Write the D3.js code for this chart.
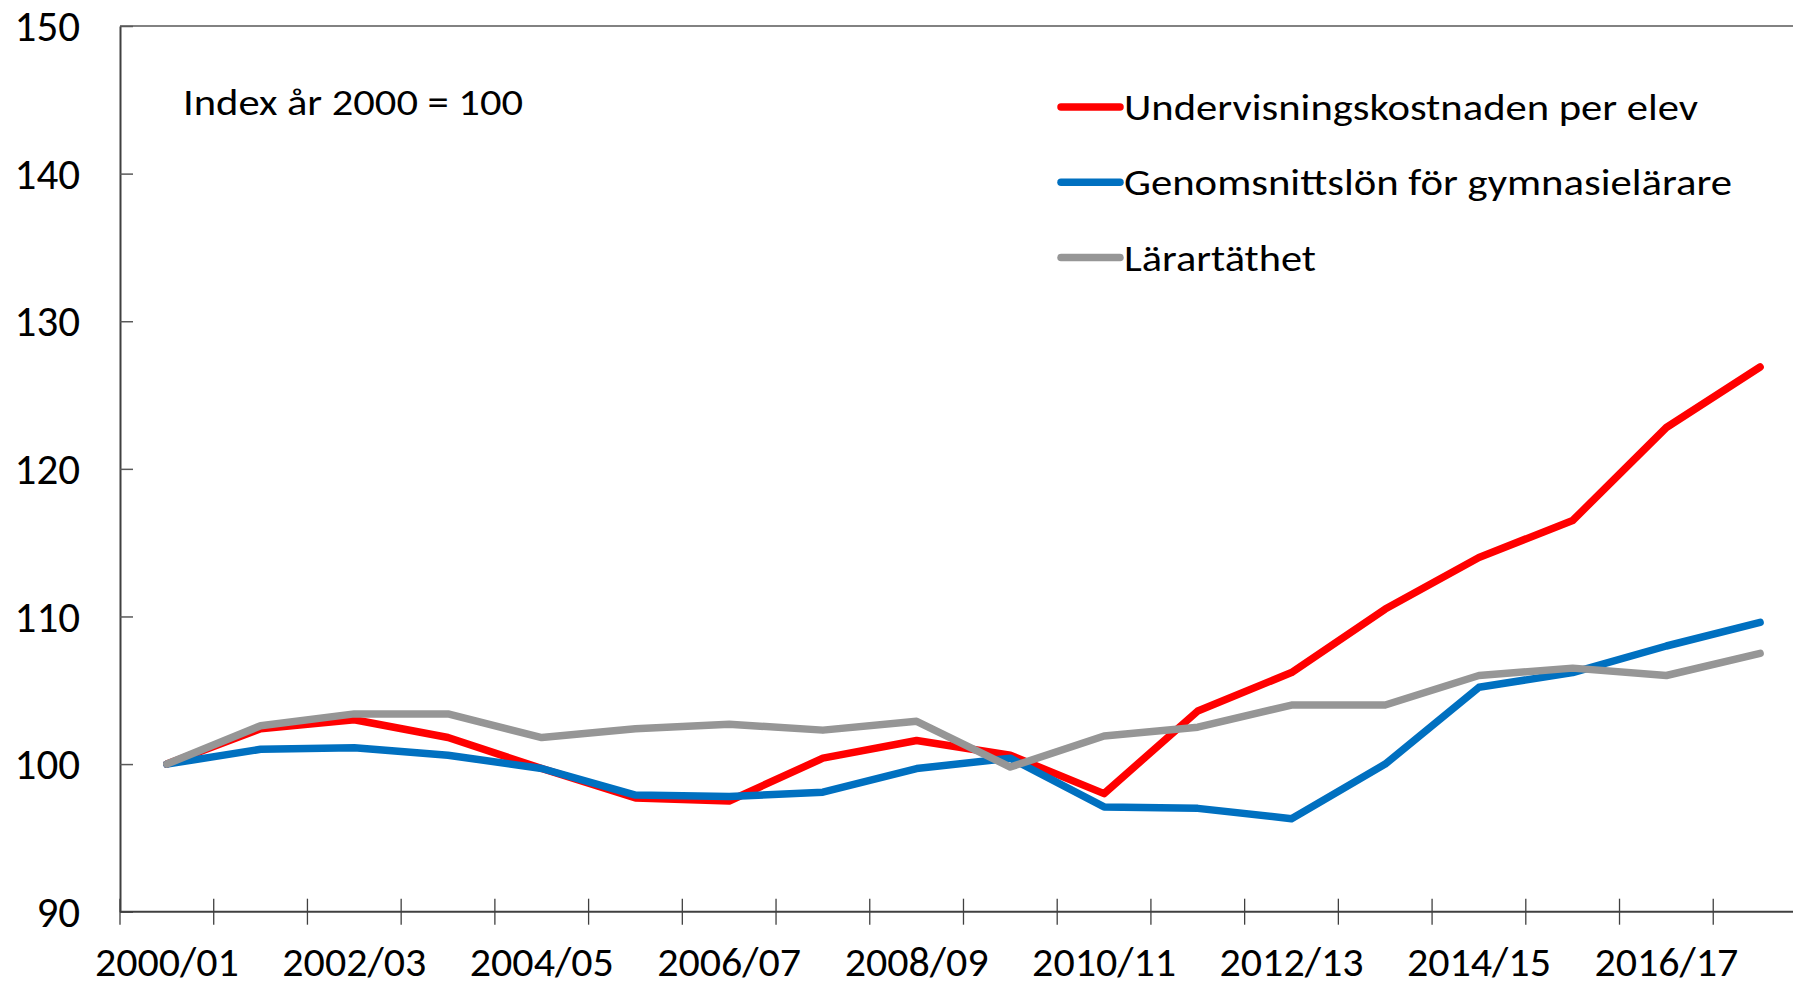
<!DOCTYPE html>
<html>
<head>
<meta charset="utf-8">
<script src="https://cdn.jsdelivr.net/npm/d3@7"></script>
<style>
    body { margin: 0; background: white; overflow: hidden; }
    text { font-family: Carlito, Calibri, "Open Sans", sans-serif; fill: black; }
</style>
</head>
<body>
<div id="chart"></div>
<script>
// läsåren på x-axeln
const categories = ["2000/01", "2001/02", "2002/03", "2003/04", "2004/05", "2005/06", "2006/07", "2007/08", "2008/09",
    "2009/10", "2010/11", "2011/12", "2012/13", "2013/14", "2014/15", "2015/16", "2016/17", "2017/18"]

// serier, index år 2000 = 100
const kostnad = [100, 102.4, 103.0, 101.8, 99.7, 97.7, 97.5, 100.4, 101.6, 100.6, 98.0, 103.6, 106.2, 110.5, 114.0, 116.5, 122.8, 126.9]
const lon = [100, 101.0, 101.1, 100.6, 99.7, 97.9, 97.8, 98.1, 99.7, 100.4, 97.1, 97.0, 96.3, 100.0, 105.2, 106.2, 108.0, 109.6]
const tathet = [100, 102.6, 103.4, 103.4, 101.8, 102.4, 102.7, 102.3, 102.9, 99.8, 101.9, 102.5, 104.0, 104.0, 106.0, 106.5, 106.0, 107.5]

const seriesNames = ["Undervisningskostnaden per elev", "Genomsnittslön för gymnasielärare", "Lärartäthet"]
const seriesColors = ["#ff0000", "#0070c0", "#969696"]
const yTicks = [90, 100, 110, 120, 130, 140, 150]
const xLabels = ["2000/01", "2002/03", "2004/05", "2006/07", "2008/09", "2010/11", "2012/13", "2014/15", "2016/17"]
const note = "Index år 2000 = 100"

//----------------------------------------------------------------------------
const width = 1793
const height = 990
const margin = { top: 26, left: 120, bottom: 76 }
const bandW = 93.72

const svg = d3.select("#chart")
    .append("svg")
    .attr("width", width)
    .attr("height", height)

//define scales
const x = d3.scaleBand()
    .domain(categories)
    .range([margin.left, margin.left + bandW * categories.length])
    .padding(0)

const y = d3.scaleLinear()
    .domain([90, 150])
    .range([height - margin.bottom - 2.3, margin.top])

//top border of the plot area
svg.append("line")
    .attr("x1", margin.left)
    .attr("x2", width)
    .attr("y1", y(150))
    .attr("y2", y(150))
    .attr("stroke", "#595959")
    .attr("stroke-width", 1.5)

//draw y axe
const yAxis = svg.append("g")
    .attr("transform", `translate(${margin.left},0)`)
    .call(d3.axisLeft(y).tickValues(yTicks).tickSizeInner(-13).tickSizeOuter(0).tickPadding(40))
yAxis.select(".domain").attr("stroke", "#404040").attr("stroke-width", 2)
yAxis.selectAll(".tick line").attr("stroke", "#595959").attr("stroke-width", 1.5)
yAxis.selectAll(".tick text")
    .style("font-size", "43px")
    .attr("dy", "0.34em")

//draw x axe, labels on every other year
const xAxis = svg.append("g")
    .attr("transform", `translate(0,${y(90)})`)
    .call(d3.axisBottom(x).tickValues(xLabels).tickSize(0).tickPadding(38))
xAxis.select(".domain").remove()
xAxis.selectAll(".tick text")
    .style("font-size", "42px")
    .attr("dy", "0.62em")

svg.append("line")
    .attr("x1", margin.left)
    .attr("x2", width)
    .attr("y1", y(90))
    .attr("y2", y(90))
    .attr("stroke", "#404040")
    .attr("stroke-width", 2)

//cross tick marks between the school years
const bounds = categories.map(c => x(c)).concat([x(categories[categories.length - 1]) + x.bandwidth()])
svg.append("g")
    .selectAll("line")
    .data(bounds)
    .join("line")
    .attr("x1", d => d)
    .attr("x2", d => d)
    .attr("y1", y(90) - 13)
    .attr("y2", y(90) + 13)
    .attr("stroke", "#404040")
    .attr("stroke-width", 1.3)

//----------------------------------------------------------------------------
//lines
const line = d3.line()
    .x((d, i) => x(categories[i]) + x.bandwidth() / 2)
    .y(d => y(d))

const allSeries = [kostnad, lon, tathet]
svg.append("g")
    .selectAll("path")
    .data(allSeries)
    .join("path")
    .attr("d", d => line(d))
    .attr("fill", "none")
    .attr("stroke", (d, i) => seriesColors[i])
    .attr("stroke-width", 7.5)
    .attr("stroke-linejoin", "round")
    .attr("stroke-linecap", "round")

//----------------------------------------------------------------------------
//note
svg.append("text")
    .attr("x", 183)
    .attr("y", 115)
    .attr("textLength", 340)
    .attr("lengthAdjust", "spacingAndGlyphs")
    .style("font-size", "37px")
    .text(note)

//legend
const legendWidths = [574, 608, 192]
const legend = svg.append("g")
    .selectAll("g")
    .data(seriesNames)
    .join("g")
    .attr("transform", (d, i) => `translate(1061,${107 + i * 75.3})`)

legend.append("line")
    .attr("x1", 0)
    .attr("x2", 59)
    .attr("stroke", (d, i) => seriesColors[i])
    .attr("stroke-width", 7.5)
    .attr("stroke-linecap", "round")

legend.append("text")
    .attr("x", 63)
    .attr("y", 13)
    .attr("textLength", (d, i) => legendWidths[i])
    .attr("lengthAdjust", "spacingAndGlyphs")
    .style("font-size", "37px")
    .text(d => d)
</script>
</body>
</html>
